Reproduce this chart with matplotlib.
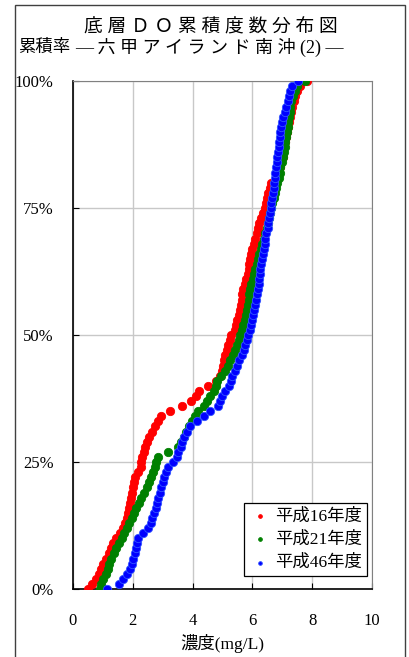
import numpy as np
import matplotlib.pyplot as plt
from matplotlib.patches import Rectangle

# 濃度(mg/L)を累積率 0%,1%,...,100% の順に並べたもの
h16 = [0.50, 0.62, 0.78, 0.88, 0.95, 1.00, 1.10, 1.20, 1.27, 1.34,
       1.45, 1.56, 1.67, 1.75, 1.80, 1.85, 1.88, 1.92, 1.95, 1.97,
       2.00, 2.03, 2.07, 2.18, 2.26, 2.28, 2.30, 2.36, 2.42, 2.47,
       2.55, 2.63, 2.73, 2.85, 2.95, 3.25, 3.65, 3.95, 4.10, 4.22,
       4.52, 4.80, 4.93, 4.99, 5.03, 5.06, 5.09, 5.14, 5.19, 5.25,
       5.30, 5.42, 5.46, 5.50, 5.54, 5.58, 5.62, 5.65, 5.67, 5.70,
       5.76, 5.80, 5.84, 5.88, 5.90, 5.92, 5.96, 6.00, 6.05, 6.10,
       6.15, 6.18, 6.24, 6.30, 6.36, 6.42, 6.46, 6.50, 6.54, 6.58,
       6.64, 6.84, 6.88, 6.93, 6.97, 7.01, 7.04, 7.07, 7.10, 7.13,
       7.16, 7.19, 7.22, 7.26, 7.30, 7.34, 7.38, 7.42, 7.48, 7.60,
       7.82]
h21 = [0.90, 0.95, 1.02, 1.10, 1.17, 1.22, 1.28, 1.36, 1.45, 1.55,
       1.64, 1.72, 1.80, 1.88, 1.96, 2.04, 2.12, 2.20, 2.28, 2.36,
       2.46, 2.55, 2.62, 2.68, 2.74, 2.79, 2.84, 3.18, 3.52, 3.62,
       3.70, 3.78, 3.87, 3.98, 4.08, 4.18, 4.38, 4.50, 4.60, 4.72,
       4.80, 4.82, 4.95, 5.08, 5.17, 5.25, 5.34, 5.42, 5.50, 5.56,
       5.60, 5.65, 5.70, 5.74, 5.78, 5.81, 5.85, 5.88, 5.90, 5.92,
       5.97, 6.01, 6.05, 6.10, 6.15, 6.19, 6.24, 6.28, 6.33, 6.38,
       6.44, 6.48, 6.52, 6.56, 6.60, 6.64, 6.67, 6.71, 6.75, 6.79,
       6.84, 6.88, 6.91, 6.94, 6.98, 7.02, 7.05, 7.08, 7.11, 7.14,
       7.17, 7.19, 7.21, 7.23, 7.25, 7.27, 7.30, 7.35, 7.42, 7.50,
       7.76]
h46 = [1.13, 1.55, 1.68, 1.82, 1.92, 1.97, 2.02, 2.07, 2.11, 2.14,
       2.17, 2.35, 2.52, 2.60, 2.66, 2.72, 2.77, 2.80, 2.86, 2.92,
       2.96, 3.00, 3.04, 3.10, 3.18, 3.35, 3.47, 3.53, 3.60, 3.66,
       3.73, 3.82, 3.90, 4.15, 4.40, 4.58, 4.85, 4.93, 5.00, 5.10,
       5.22, 5.28, 5.33, 5.42, 5.50, 5.57, 5.64, 5.71, 5.77, 5.82,
       5.87, 5.91, 5.95, 5.98, 6.03, 6.07, 6.10, 6.13, 6.16, 6.19,
       6.21, 6.23, 6.25, 6.27, 6.30, 6.32, 6.35, 6.38, 6.41, 6.44,
       6.47, 6.51, 6.54, 6.57, 6.59, 6.61, 6.64, 6.67, 6.69, 6.71,
       6.73, 6.75, 6.77, 6.79, 6.81, 6.83, 6.86, 6.88, 6.90, 6.92,
       6.93, 6.96, 7.00, 7.04, 7.08, 7.13, 7.18, 7.22, 7.27, 7.32,
       7.52]

labels = ['平成16年度', '平成21年度', '平成46年度']
colors = ['#ff0000', '#008000', '#0000ff']
edges = ['#ff0000', '#008000', '#3355ff']
yticks = [0, 0.25, 0.5, 0.75, 1.0]
ytick_labels = ['0%', '25%', '50%', '75%', '100%']
xticks = [0, 2, 4, 6, 8, 10]

fam = ['Liberation Serif', 'Noto Sans CJK JP']
plt.rcParams['font.family'] = fam

fig = plt.figure(figsize=(4.10, 6.57), dpi=100)
ax = fig.add_axes([0.178, 0.1035, 0.729, 0.773])

for vals, lab, c, ec in zip([h16, h21, h46], labels, colors, edges):
    v = np.array(vals)
    p = np.arange(len(v)) / (len(v) - 1)
    ax.scatter(v, p, s=36, color=c, edgecolors=ec, linewidths=0.6,
               label=lab, zorder=3)

ax.set_xlim(0, 10)
ax.set_ylim(0, 1)
ax.set_xticks(xticks)
ax.set_yticks(yticks)
ax.set_yticklabels(ytick_labels)
ax.tick_params(direction='in', length=4, labelsize=12, color='black')
ax.tick_params(axis='x', pad=17)
ax.tick_params(axis='y', pad=14)
ax.grid(True, color='#c8c8c8', linewidth=1)
ax.set_axisbelow(True)
for s in ['top', 'right']:
    ax.spines[s].set_color('#808080')
for s in ['left', 'bottom']:
    ax.spines[s].set_color('black')
    ax.spines[s].set_linewidth(1.2)

ax.set_xlabel('濃度(mg/L)', fontsize=12.5, labelpad=4)

leg = ax.legend(loc='lower right', bbox_to_anchor=(0.985, 0.025),
                fontsize=12.5, markerscale=0.45, handletextpad=0.3,
                borderpad=0.3, labelspacing=0.4, handlelength=1.2,
                fancybox=False, framealpha=1, borderaxespad=0)
leg.get_frame().set_edgecolor('black')
leg.get_frame().set_linewidth(0.9)

fig.text(0.515, 0.958, '底 層 Ｄ Ｏ 累 積 度 数 分 布 図', ha='center',
         va='center', fontsize=13.5)
fig.text(0.045, 0.927, '累積率', ha='left', va='center', fontsize=12.5)
fig.text(0.183, 0.927, '― 六 甲 ア イ ラ ン ド 南 沖 (2) ―', ha='left',
         va='center', fontsize=13)

# 外枠
fig.patches.append(Rectangle((15 / 410, -0.05), 390 / 410, 1.05 - 5 / 657,
                             transform=fig.transFigure, fill=False,
                             edgecolor='#404040', linewidth=1))

fig.savefig('out.png', dpi=100)
